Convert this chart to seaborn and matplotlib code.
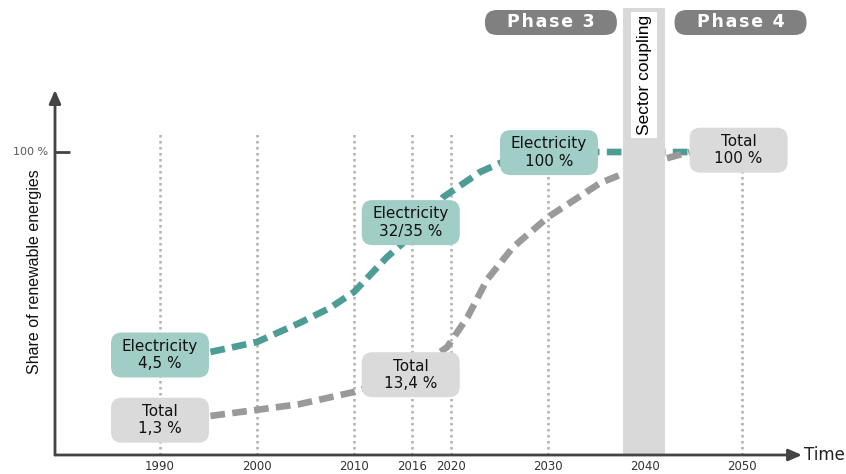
import matplotlib
matplotlib.use("Agg")
import matplotlib.pyplot as plt
from matplotlib.patches import FancyBboxPatch, Rectangle
import seaborn as sns
import pandas as pd

# ---- data (schematic positions) ----
elec_years = [1995.2, 2000, 2004.4, 2007.5, 2010, 2013.4, 2016, 2019.2, 2023, 2025.1, 2030, 2035.4, 2044.6]
elec_vals = [34.0, 37.3, 43.6, 48.5, 53.8, 65.3, 72.6, 85.1, 93.4, 96.4, 100, 100, 100]
total_years = [1995.2, 2000, 2004.4, 2010, 2016, 2019.6, 2021.7, 2023.7, 2026.4, 2030, 2035.4, 2040.5, 2044.6]
total_vals = [12.9, 14.9, 16.8, 20.8, 27.4, 35.6, 45.5, 57.8, 68.6, 78.5, 89.8, 96.4, 100]
tick_years = [1990, 2000, 2010, 2016, 2020, 2030, 2040, 2050]
tick_labels = ["1990", "2000", "2010", "2016", "2020", "2030", "2040", "2050"]
labels = ["Electricity\n4,5 %", "Total\n1,3 %", "Electricity\n32/35 %", "Total\n13,4 %",
          "Electricity\n100 %", "Total\n100 %"]
label_kind = ["elec", "total", "elec", "total", "elec", "total"]
label_year = [1990, 1990, 2015.85, 2015.85, 2030.1, 2049.65]
label_val = [33.0, 11.5, 76.7, 26.5, 99.8, 100.6]
phases = ["Phase 3", "Phase 4"]
phase_x = [2030.3, 2049.85]

sns.set_style("white")
plt.rcParams["font.family"] = ["DejaVu Sans"]

TEAL = "#4d9d95"
TEAL_BOX = "#a1cdc7"
GRAY = "#9a9a9a"
GRAY_BOX = "#dadada"

fig = plt.figure(figsize=(8.46, 4.74), dpi=100)
W, H = 846, 474
ax = fig.add_axes([55 / W, 19 / H, 1 - 55 / W, 455 / H])
pxx = 9.7      # px per year
pxy = 3.03     # px per percent
x0 = 1990 - 105 / pxx
ax.set_xlim(x0, x0 + (W - 55) / pxx)
ax.set_ylim(0, 455 / pxy)
ax.axis("off")

# vertical dotted guide lines
for yr in tick_years:
    if yr == 2040:
        continue
    ax.plot([yr, yr], [0, 107], color="#b0b0b0", lw=1.8, ls=(0, (1, 1.4)), zorder=1)

df = pd.concat([
    pd.DataFrame({"year": elec_years, "share": elec_vals, "series": "Electricity"}),
    pd.DataFrame({"year": total_years, "share": total_vals, "series": "Total"}),
])
sns.lineplot(data=df, x="year", y="share", hue="series",
             palette={"Electricity": TEAL, "Total": GRAY}, lw=4.8,
             legend=False, ax=ax, sort=False, zorder=3)
for ln in ax.get_lines()[-2:]:
    ln.set_linestyle((0, (2.2, 1.1)))
    ln.set_solid_capstyle("butt")

# sector coupling bar
xb0 = x0 + (623 - 55) / pxx
xb1 = x0 + (665 - 55) / pxx
ax.add_patch(Rectangle((xb0, 0), xb1 - xb0, 447 / pxy, fc="#d9d9d9", ec="none",
                       zorder=5, clip_on=False))
xw0 = x0 + (631 - 55) / pxx
xw1 = x0 + (657 - 55) / pxx
ax.add_patch(Rectangle((xw0, (455 - 138) / pxy), xw1 - xw0, 126 / pxy, fc="white",
                       ec="none", zorder=6, clip_on=False))
ax.text((xw0 + xw1) / 2, (455 - 75) / pxy, "Sector coupling", rotation=90,
        ha="center", va="center", fontsize=12.5, color="black", zorder=7,
        family=["Liberation Sans", "DejaVu Sans"], clip_on=False)

# label boxes
bw = 98 / pxx
bh = 45 / pxy
for txt, kind, yr, v in zip(labels, label_kind, label_year, label_val):
    fc = TEAL_BOX if kind == "elec" else GRAY_BOX
    ax.add_patch(FancyBboxPatch((yr - bw / 2, v - bh / 2), bw, bh,
                                boxstyle="round,pad=0,rounding_size=1.1",
                                mutation_aspect=pxx / pxy, fc=fc, ec="none", zorder=8))
    ax.text(yr, v, txt, ha="center", va="center", fontsize=11, color="#111111",
            linespacing=1.2, zorder=9)

# phase pills
pw = 132 / pxx
ph = 25 / pxy
for txt, xc in zip(phases, phase_x):
    yc = (455 - 22.5) / pxy
    ax.add_patch(FancyBboxPatch((xc - pw / 2, yc - ph / 2), pw, ph,
                                boxstyle="round,pad=0,rounding_size=1.25",
                                mutation_aspect=pxx / pxy, fc="#808080", ec="none",
                                zorder=8, clip_on=False))
    spaced = "\u200a".join(list(txt))
    ax.text(xc, yc, spaced, ha="center", va="center", fontsize=12.5, fontweight="bold",
            color="white", zorder=9, clip_on=False)

# axes with arrows
ax.annotate("", xy=(x0, (455 - 90) / pxy), xytext=(x0, 0),
            arrowprops=dict(arrowstyle="-|>,head_length=0.8,head_width=0.35",
                            color="#444444", lw=2, shrinkA=0, shrinkB=0),
            annotation_clip=False, zorder=10)
ax.annotate("", xy=(x0 + (802 - 55) / pxx, 0), xytext=(x0, 0),
            arrowprops=dict(arrowstyle="-|>,head_length=0.8,head_width=0.35",
                            color="#444444", lw=2, shrinkA=0, shrinkB=0),
            annotation_clip=False, zorder=10)
ax.plot([x0, x0 + 15 / pxx], [100, 100], color="#444444", lw=2, zorder=10,
        solid_capstyle="butt", clip_on=False)
ax.text(x0 - 7 / pxx, 100, "100 %", ha="right", va="center", fontsize=8,
        color="#555555", clip_on=False)
for yr, lb in zip(tick_years, tick_labels):
    ax.text(yr, -11 / pxy, lb, ha="center", va="center", fontsize=8.5,
            color="#333333", clip_on=False)
ax.text(x0 + (804 - 55) / pxx, 0, "Time", ha="left", va="center", fontsize=12,
        color="#222222", clip_on=False)
fig.text(35 / W, 1 - 272 / H, "Share of renewable energies", rotation=90,
         ha="center", va="center", fontsize=11.5, color="#111111",
         family=["Liberation Sans", "DejaVu Sans"])

fig.savefig("out.png", dpi=100)
